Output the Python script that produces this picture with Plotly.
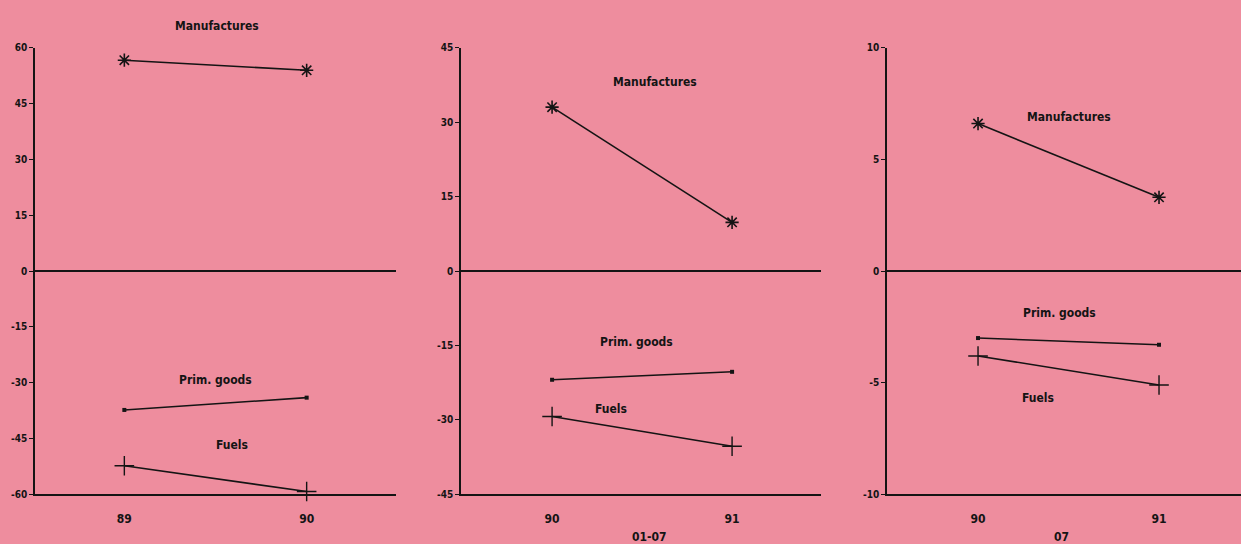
import plotly.graph_objects as go

# ---- data ----
cats1 = ["89", "90"]
cats2 = ["90", "91"]
cats3 = ["90", "91"]

manuf1 = [56.6, 53.9]
prim1 = [-37.3, -34.0]
fuels1 = [-52.3, -59.2]

manuf2 = [33.0, 9.8]
prim2 = [-21.9, -20.3]
fuels2 = [-29.3, -35.3]

manuf3 = [6.6, 3.3]
prim3 = [-3.0, -3.3]
fuels3 = [-3.8, -5.1]

yticks1 = [-60, -45, -30, -15, 0, 15, 30, 45, 60]
yticks2 = [-45, -30, -15, 0, 15, 30, 45]
yticks3 = [-10, -5, 0, 5, 10]

BG = "#EE8D9E"
INK = "#141414"
FONT = "DejaVu Sans Condensed, Liberation Sans Narrow, Liberation Sans, sans-serif"

fig = go.Figure()

panels = [
    (cats1, manuf1, prim1, fuels1, "x", "y"),
    (cats2, manuf2, prim2, fuels2, "x2", "y2"),
    (cats3, manuf3, prim3, fuels3, "x3", "y3"),
]
for cats, m, p, f, xa, ya in panels:
    fig.add_trace(go.Scatter(x=cats, y=m, mode="lines+markers", xaxis=xa, yaxis=ya,
                             line=dict(color=INK, width=1.6),
                             marker=dict(symbol="asterisk-open", size=11, color=INK,
                                         line=dict(color=INK, width=1.6)),
                             showlegend=False, cliponaxis=False))
    fig.add_trace(go.Scatter(x=cats, y=p, mode="lines+markers", xaxis=xa, yaxis=ya,
                             line=dict(color=INK, width=1.6),
                             marker=dict(symbol="square", size=4, color=INK),
                             showlegend=False, cliponaxis=False))
    fig.add_trace(go.Scatter(x=cats, y=f, mode="lines+markers", xaxis=xa, yaxis=ya,
                             line=dict(color=INK, width=1.6),
                             marker=dict(symbol="cross-thin-open", size=14, color=INK,
                                         line=dict(color=INK, width=1.4)),
                             showlegend=False, cliponaxis=False))

ydom = [1 - 499.5 / 544, 1 - 42.5 / 544]
xdoms = [[35 / 1241, 396 / 1241], [461 / 1241, 821 / 1241], [887 / 1241, 1.0]]
xranges = [[-0.49, 1.49], [-0.506, 1.494], [-0.503, 1.453]]
yranges = [[-60, 60], [-45, 45], [-10, 10]]
yticks = [yticks1, yticks2, yticks3]

layout = dict(
    width=1241, height=544,
    margin=dict(l=0, r=0, t=0, b=0),
    paper_bgcolor=BG, plot_bgcolor=BG,
    font=dict(family=FONT, color=INK, size=11),
    showlegend=False,
)
for i in range(3):
    sx = "" if i == 0 else str(i + 1)
    layout["xaxis" + sx] = dict(
        domain=xdoms[i], range=xranges[i], type="category",
        anchor="y" + sx, showline=True, linecolor=INK, linewidth=1.6,
        showgrid=False, zeroline=False, ticks="", ticklabelstandoff=12,
        tickfont=dict(family=FONT, size=12, color=INK, weight="bold"),
    )
    layout["yaxis" + sx] = dict(
        domain=ydom, range=yranges[i], anchor="x" + sx,
        showline=True, linecolor=INK, linewidth=1.6,
        showgrid=False, zeroline=True, zerolinecolor=INK, zerolinewidth=1.6,
        tickvals=yticks[i], ticktext=[str(v) for v in yticks[i]],
        ticks="outside", ticklen=4, tickwidth=1.4, tickcolor=INK,
        tickfont=dict(family=FONT, size=10, color=INK, weight="bold"),
    )
fig.update_layout(**layout)

AFONT = dict(family=FONT, size=12, color=INK, weight="bold")

ann = [
    ("x", "y", 0.50, -29.2, "Prim. goods"),
    ("x", "y", 0.59, -46.6, "Fuels"),
    ("x2", "y2", 0.57, 38.0, "Manufactures"),
    ("x2", "y2", 0.47, -14.3, "Prim. goods"),
    ("x2", "y2", 0.33, -27.7, "Fuels"),
    ("x3", "y3", 0.50, 6.9, "Manufactures"),
    ("x3", "y3", 0.45, -1.9, "Prim. goods"),
    ("x3", "y3", 0.33, -5.67, "Fuels"),
]
for xr, yr, xv, yv, t in ann:
    fig.add_annotation(x=xv, y=yv, xref=xr, yref=yr, text=t, showarrow=False, font=AFONT)

# title of first panel sits above its plot area
fig.add_annotation(x=0.51, y=1 - 20 / 544, xref="x", yref="paper", text="Manufactures",
                   showarrow=False, yanchor="middle", font=AFONT)

fig.add_annotation(x=0.54, y=1 - 543 / 544, xref="x2", yref="paper", text="01-07",
                   showarrow=False, yanchor="middle", font=AFONT)
fig.add_annotation(x=0.46, y=1 - 543 / 544, xref="x3", yref="paper", text="07",
                   showarrow=False, yanchor="middle", font=AFONT)

fig.write_html("out.html", config={"displayModeBar": False},
               post_script="document.body.style.margin='0';document.body.style.background='" + BG + "';")
